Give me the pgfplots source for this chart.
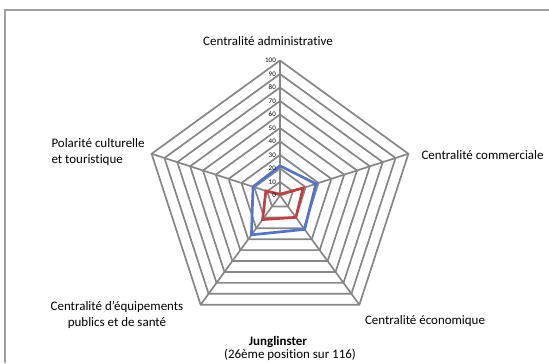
\documentclass[border=0pt]{standalone}
\usepackage{pgfplots}
\pgfplotsset{compat=1.18}
\usepgfplotslibrary{polar}
\usepackage{fontspec}
\setmainfont{Carlito}[Ligatures=NoCommon]

\definecolor{gridgray}{RGB}{134,134,134}
\definecolor{xlblue}{RGB}{84,116,200}
\definecolor{xlred}{RGB}{192,64,64}

\begin{document}
\begin{tikzpicture}[x=1bp,y=1bp]
    \useasboundingbox (0,0) rectangle (549,-363);
    % outer frame (only top and left edges are visible)
    \draw[gray!75, line width=2bp] (5,-363) -- (5,-10) -- (549,-10);

    \begin{polaraxis}[
        at={(280bp,-195.5bp)}, anchor=center,
        scale only axis,
        width=270bp, height=270bp,
        xmin=0, xmax=360,
        ymin=0, ymax=100,
        hide axis,
        clip=false,
    ]
        % pentagon grid
        \pgfplotsinvokeforeach{10,20,30,40,50,60,70,80,90,100}{
            \addplot[gridgray, line width=1.7bp, mark=none]
                coordinates {(90,#1) (18,#1) (-54,#1) (-126,#1) (162,#1) (90,#1)};
        }
        % spokes
        \addplot[gridgray, line width=1.7bp, mark=none] coordinates {(90,0) (90,100)};
        \addplot[gridgray, line width=1.7bp, mark=none] coordinates {(18,0) (18,100)};
        \addplot[gridgray, line width=1.7bp, mark=none] coordinates {(-54,0) (-54,100)};
        \addplot[gridgray, line width=1.7bp, mark=none] coordinates {(-126,0) (-126,100)};
        \addplot[gridgray, line width=1.7bp, mark=none] coordinates {(162,0) (162,100)};

        % series
        \addplot[xlblue, line width=2.7bp, mark=none]
            coordinates {(90,22) (18,28) (-54,31) (-126,36) (162,21) (90,22)};
        \addplot[xlred, line width=2.7bp, mark=none]
            coordinates {(90,1) (18,18) (-54,20) (-126,22) (162,11) (90,1)};

        % value labels along the top spoke
        \pgfplotsinvokeforeach{0,10,20,30,40,50,60,70,80,90,100}{
            \node[anchor=east, font=\fontsize{7}{8}\selectfont, inner sep=0pt, xshift=-4bp]
                at (axis cs:90,#1) {#1};
        }
    \end{polaraxis}

    \begin{scope}[font=\fontsize{13}{15.5}\selectfont]
        \node at (268,-41) {Centralité administrative};
        \node[anchor=west] at (418,-155) {Centralité commerciale};
        \node at (425,-321) {Centralité économique};
        \node[align=center] at (117,-315) {Centralité d'équipements\\publics et de santé};
        \node[align=left, anchor=west] at (48,-152) {Polarité culturelle\\et touristique};
        \node at (278,-342.5) {\textbf{Junglinster}};
        \node at (290,-355) {(26ème position sur 116)};
    \end{scope}
\end{tikzpicture}
\end{document}
